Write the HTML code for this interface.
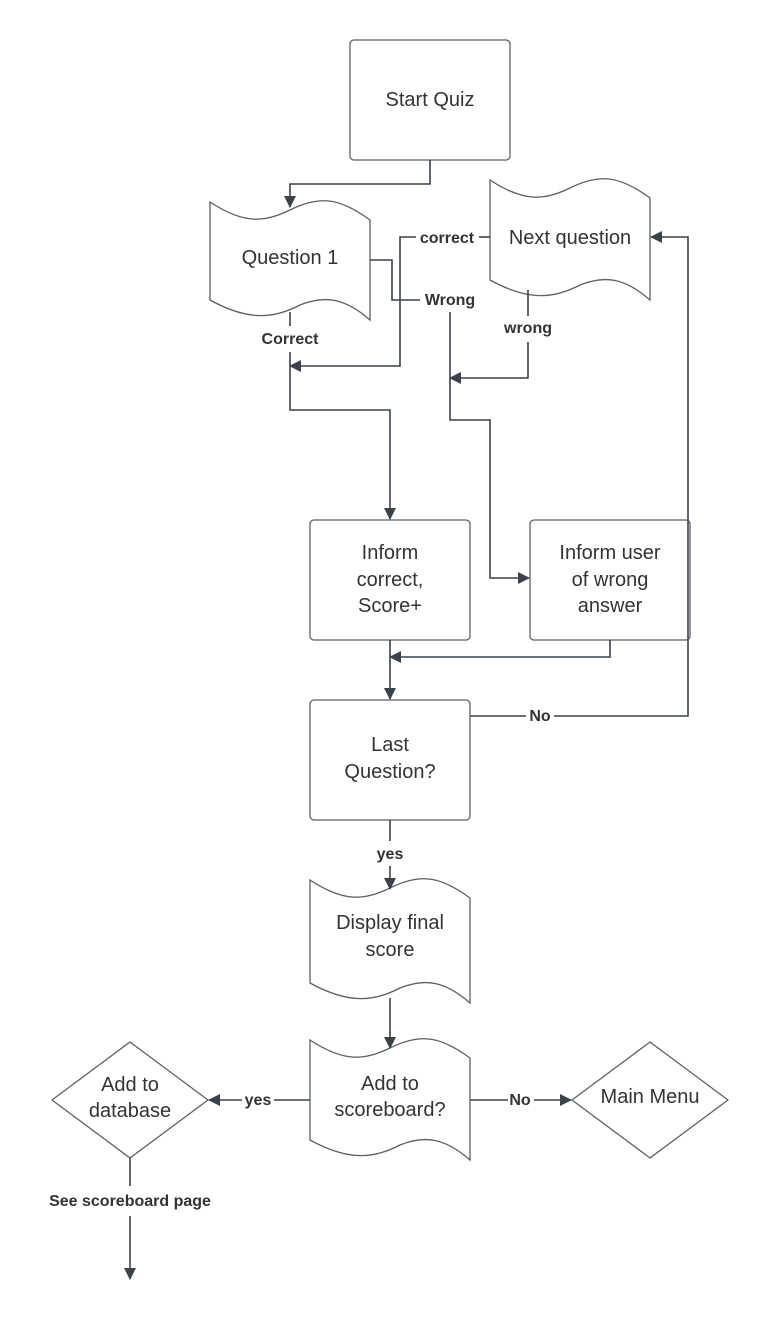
<!DOCTYPE html>
<html><head><meta charset="utf-8"><style>
html,body{margin:0;padding:0;background:#fff;}
svg{display:block;}
.s{fill:#fff;stroke:#5a6068;stroke-width:1.3;}
.c{fill:none;stroke:#3a424c;stroke-width:1.6;}
.t{font-family:"Liberation Sans",sans-serif;font-size:20px;fill:#333;text-anchor:middle;}
.l{font-family:"Liberation Sans",sans-serif;font-size:16px;font-weight:bold;fill:#333;text-anchor:middle;}
</style></head><body>
<svg width="770" height="1320" viewBox="0 0 770 1320" xmlns="http://www.w3.org/2000/svg">
<defs><marker id="a" markerWidth="12" markerHeight="12" refX="11" refY="6" orient="auto" markerUnits="userSpaceOnUse"><path d="M0,0 L12,6 L0,12 z" fill="#3a424c"/></marker></defs>

<rect class="s" x="350" y="40" width="160" height="120" rx="4"/>
<text class="t" x="430" y="106">Start Quiz</text>

<path class="s" d="M210,202 C245,225 265,222 290,210 C320,195 340,198 370,220 L370,320 C345,298 325,295 300,305 C275,318 250,322 210,300 Z"/>
<text class="t" x="290" y="264">Question 1</text>

<path class="s" d="M490,180 C525,203 545,200 570,188 C600,173 620,176 650,198 L650,300 C625,278 605,275 580,285 C555,298 530,302 490,280 Z"/>
<text class="t" x="570" y="244">Next question</text>

<rect class="s" x="310" y="520" width="160" height="120" rx="4"/>
<text class="t" x="390" y="559">Inform</text><text class="t" x="390" y="586">correct,</text><text class="t" x="390" y="612">Score+</text>

<rect class="s" x="530" y="520" width="160" height="120" rx="4"/>
<text class="t" x="610" y="559">Inform user</text><text class="t" x="610" y="586">of wrong</text><text class="t" x="610" y="612">answer</text>

<rect class="s" x="310" y="700" width="160" height="120" rx="4"/>
<text class="t" x="390" y="751">Last</text><text class="t" x="390" y="778">Question?</text>

<path class="s" d="M310,880 C345,903 365,900 390,888 C420,873 440,876 470,898 L470,1003 C445,981 425,978 400,988 C375,1001 350,1005 310,983 Z"/>
<text class="t" x="390" y="929">Display final</text><text class="t" x="390" y="956">score</text>

<path class="s" d="M310,1040 C345,1063 365,1060 390,1048 C420,1033 440,1036 470,1058 L470,1160 C445,1138 425,1135 400,1145 C375,1158 350,1162 310,1140 Z"/>
<text class="t" x="390" y="1090">Add to</text><text class="t" x="390" y="1116">scoreboard?</text>

<path class="s" d="M130,1042 L208,1100 L130,1158 L52,1100 Z" stroke-linejoin="round"/>
<text class="t" x="130" y="1091">Add to</text><text class="t" x="130" y="1117">database</text>

<path class="s" d="M650,1042 L728,1100 L650,1158 L572,1100 Z" stroke-linejoin="round"/>
<text class="t" x="650" y="1103">Main Menu</text>

<path class="c" d="M430,160 V184 H290 V207" marker-end="url(#a)"/>
<path class="c" d="M370,260 H392 V300 H420"/>
<text class="l" x="450" y="305">Wrong</text>
<path class="c" d="M450,312 V420 H490 V578 H529" marker-end="url(#a)"/>
<path class="c" d="M490,237 H479"/>
<text class="l" x="447" y="243">correct</text>
<path class="c" d="M416,237 H400 V366 H290" marker-end="url(#a)"/>
<path class="c" d="M528,290 V316"/>
<text class="l" x="528" y="333">wrong</text>
<path class="c" d="M528,342 V378 H450" marker-end="url(#a)"/>
<path class="c" d="M290,312 V326"/>
<text class="l" x="290" y="344">Correct</text>
<path class="c" d="M290,352 V410 H390 V519" marker-end="url(#a)"/>
<path class="c" d="M610,640 V657 H390" marker-end="url(#a)"/>
<path class="c" d="M390,640 V699" marker-end="url(#a)"/>
<path class="c" d="M470,716 H526"/>
<text class="l" x="540" y="721">No</text>
<path class="c" d="M554,716 H688 V237 H651" marker-end="url(#a)"/>
<path class="c" d="M390,820 V841"/>
<text class="l" x="390" y="859">yes</text>
<path class="c" d="M390,866 V889" marker-end="url(#a)"/>
<path class="c" d="M390,998 V1048" marker-end="url(#a)"/>
<path class="c" d="M310,1100 H274"/>
<text class="l" x="258" y="1105">yes</text>
<path class="c" d="M242,1100 H209" marker-end="url(#a)"/>
<path class="c" d="M470,1100 H508"/>
<text class="l" x="520" y="1105">No</text>
<path class="c" d="M534,1100 H571" marker-end="url(#a)"/>
<path class="c" d="M130,1158 V1186"/>
<text class="l" x="130" y="1206">See scoreboard page</text>
<path class="c" d="M130,1216 V1279" marker-end="url(#a)"/>
</svg>
</body></html>
